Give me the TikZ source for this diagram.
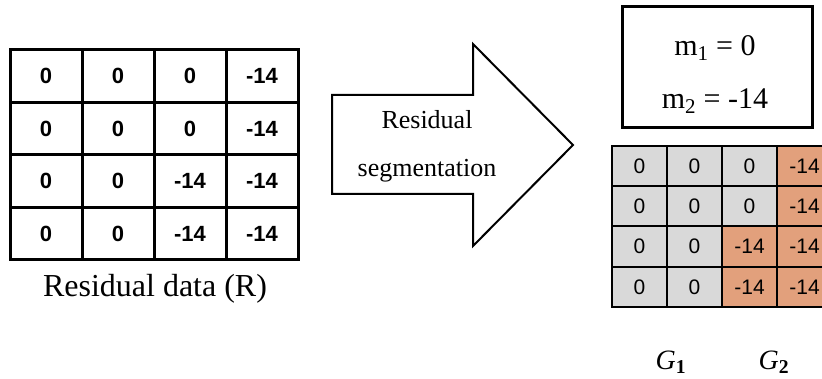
\documentclass[tikz,border=0pt]{standalone}
\usepackage{fontspec}
\setmainfont{Liberation Serif}
\newfontfamily\cellfont{Liberation Sans}
\usetikzlibrary{positioning}
\definecolor{cellgray}{HTML}{D9D9D9}
\definecolor{cellorange}{HTML}{E2A07C}
\tikzset{
  lcell/.style={draw=black, line width=3pt, minimum width=72pt, minimum height=52.5pt, inner sep=0pt,
    font=\cellfont\bfseries\fontsize{22}{26}\selectfont},
  rcell/.style={draw=black, line width=2pt, minimum width=55pt, minimum height=40.25pt, inner sep=0pt,
    font=\cellfont\fontsize{21}{24}\selectfont},
  gcell/.style={rcell, fill=cellgray},
  ocell/.style={rcell, fill=cellorange},
  serif/.style={inner sep=0pt, font=\fontsize{#1}{#1}\selectfont},
}
\begin{document}
\begin{tikzpicture}[x=1pt,y=-1pt]
\useasboundingbox (0,0) rectangle (822,379);
% left grid
\foreach \r/\a/\b/\c/\d in {1/0/0/0/-14, 2/0/0/0/-14, 3/0/0/-14/-14, 4/0/0/-14/-14}{
  \node[lcell] (L\r1) at (46, 50+52.5*\r-26.25) {\a};
  \node[lcell] (L\r2) at (118, 50+52.5*\r-26.25) {\b};
  \node[lcell] (L\r3) at (190, 50+52.5*\r-26.25) {\c};
  \node[lcell] (L\r4) at (262, 50+52.5*\r-26.25) {\d};
}
\node[serif=32] (cap) at (155,289) {Residual data (R)};
% arrow
\draw[line width=2pt, line join=miter] (332,95) -- (473,95) -- (473,44) -- (573,145) -- (473,246) -- (473,194) -- (332,194) -- cycle;
\node[serif=26, align=center] (seg) at (427,146) {Residual\\[22pt]segmentation};
% means box
\node[draw=black, line width=3pt, minimum width=190pt, minimum height=121pt, inner sep=0pt] (mbox) at (717,67.5) {};
\node[serif=30] (m1) at (715,48) {m\textsubscript{1} = 0};
\node[serif=30] (m2) at (715,101) {m\textsubscript{2} = -14};
% right grid
\foreach \r/\a/\b/\c/\d/\sc/\sd in {1/0/0/0/-14/gcell/ocell, 2/0/0/0/-14/gcell/ocell, 3/0/0/-14/-14/ocell/ocell, 4/0/0/-14/-14/ocell/ocell}{
  \node[gcell] (R\r1) at (639.5, 146+40.25*\r-20.125) {\a};
  \node[gcell] (R\r2) at (694.5, 146+40.25*\r-20.125) {\b};
  \node[\sc] (R\r3) at (749.5, 146+40.25*\r-20.125) {\c};
  \node[\sd] (R\r4) at (804.5, 146+40.25*\r-20.125) {\d};
}
\node[serif=28] (g1) at (671,362) {\textit{G}\textsubscript{\textbf{1}}};
\node[serif=28] (g2) at (774,362) {\textit{G}\textsubscript{\textbf{2}}};
\end{tikzpicture}
\end{document}
